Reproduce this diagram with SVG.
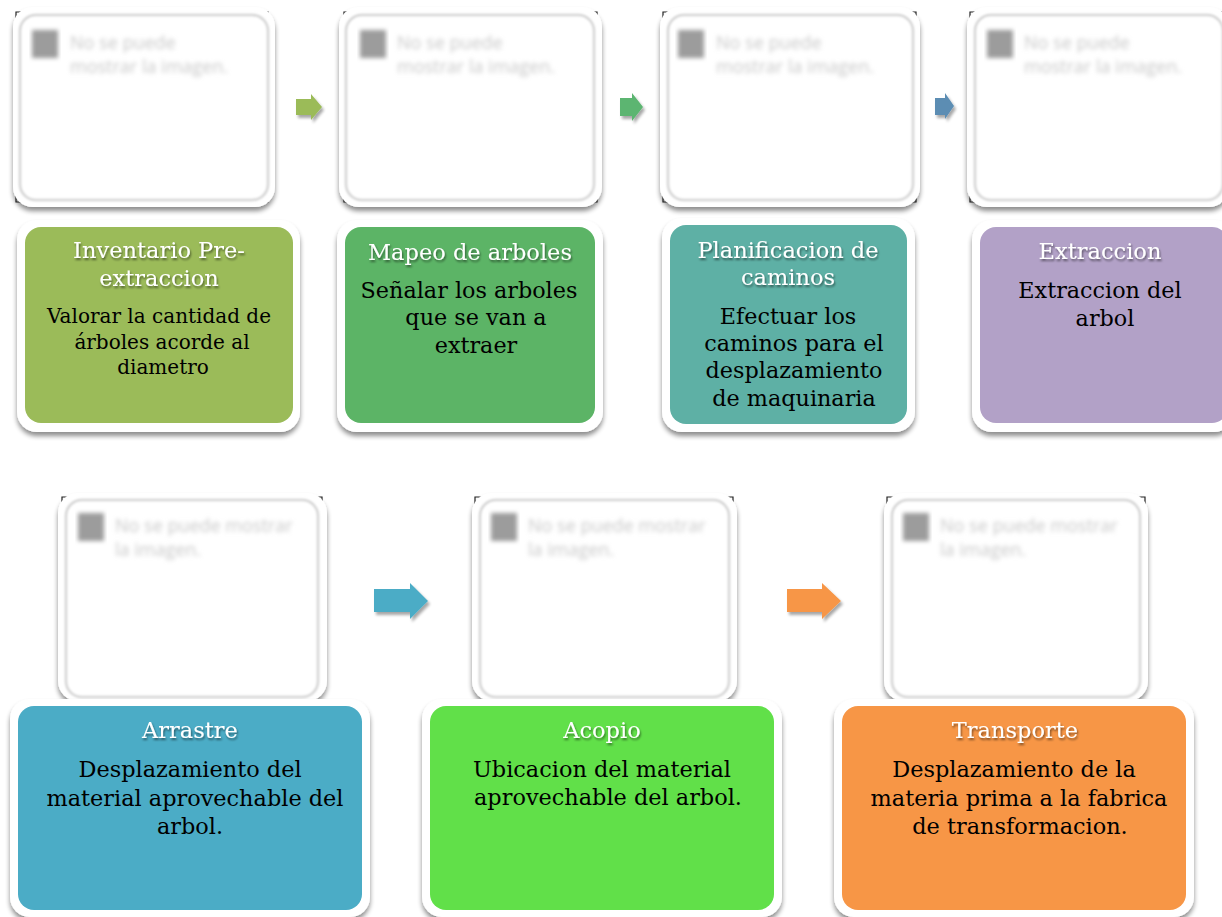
<svg xmlns="http://www.w3.org/2000/svg" width="1222" height="917" viewBox="0 0 1222 917">
<style>
.frame-out{fill:#fff;filter:url(#sh)}
.frame-in{fill:#fff;stroke:#d4d4d4;stroke-width:2.5;filter:url(#soft)}
.mark{fill:none;stroke:#222;stroke-width:1.2}
.ph-icon{fill:#9c9c9c;filter:url(#blur)}
.ph-text{font-family:"Open Sans","DejaVu Sans",sans-serif;font-size:18px;fill:#c8c8c8;filter:url(#blur)}
.cap-out{fill:#fff;filter:url(#sh)}
.title{font-family:"DejaVu Serif",serif;fill:#fff;text-anchor:middle;filter:url(#tsh)}
.desc{font-family:"DejaVu Serif",serif;fill:#000;text-anchor:middle}
.t1{font-size:22.5px}
.d1{font-size:20px}
.d3{font-size:22.3px}
.t2{font-size:22.5px}
.d2{font-size:22.4px}
</style>
<defs>
<filter id="sh" x="-10%" y="-10%" width="120%" height="125%">
<feGaussianBlur in="SourceAlpha" stdDeviation="2.5"/>
<feOffset dy="4" result="b"/>
<feComponentTransfer><feFuncA type="linear" slope="0.45"/></feComponentTransfer>
<feMerge><feMergeNode/><feMergeNode in="SourceGraphic"/></feMerge>
</filter>
<filter id="soft" x="-5%" y="-5%" width="110%" height="110%">
<feGaussianBlur stdDeviation="0.8"/>
</filter>
<filter id="blur" x="-10%" y="-40%" width="120%" height="180%">
<feGaussianBlur stdDeviation="2"/>
</filter>
<filter id="tsh" x="-10%" y="-20%" width="120%" height="150%">
<feGaussianBlur in="SourceAlpha" stdDeviation="1"/>
<feOffset dx="1" dy="1.5"/>
<feComponentTransfer><feFuncA type="linear" slope="0.5"/></feComponentTransfer>
<feMerge><feMergeNode/><feMergeNode in="SourceGraphic"/></feMerge>
</filter>
<filter id="ash" x="-20%" y="-20%" width="150%" height="160%">
<feGaussianBlur in="SourceAlpha" stdDeviation="1.5"/>
<feOffset dx="2" dy="3"/>
<feComponentTransfer><feFuncA type="linear" slope="0.35"/></feComponentTransfer>
<feMerge><feMergeNode/><feMergeNode in="SourceGraphic"/></feMerge>
</filter>
</defs>

<g id="connectors">
<path d="M296,99 H311 V94 L322,107 L311,120 V115 H296 Z" fill="#9bbb59" filter="url(#ash)"/>
<path d="M620,98 H632 V93 L643,107 L632,121 V116 H620 Z" fill="#5cb571" filter="url(#ash)"/>
<path d="M935,98 H945 V93 L954,106 L945,119 V115 H935 Z" fill="#5b8db3" filter="url(#ash)"/>
<path d="M374,589 H410 V583 L428,601 L410,619 V612 H374 Z" fill="#4bacc6" filter="url(#ash)"/>
<path d="M787,589 H822 V583 L841,601 L822,619 V612 H787 Z" fill="#f79646" filter="url(#ash)"/>
</g>

<g id="node1">
<path class="mark" d="M16,20 V12 H24 M260,12 H268 V20 M16,194 V202 H24 M260,202 H268 V194"/>
<rect class="frame-out" x="13" y="7" width="262" height="200" rx="20"/>
<rect class="frame-in" x="20" y="15" width="248" height="185" rx="16"/>
<rect class="ph-icon" x="32" y="30" width="26" height="28"/>
<text class="ph-text" x="70" y="49">No se puede</text>
<text class="ph-text" x="70" y="73">mostrar la imagen.</text>
<rect class="cap-out" x="17" y="220" width="283" height="212" rx="20"/>
<rect x="25" y="227" width="268" height="196" rx="16" fill="#9bbb59"/>
<text class="title t1" x="159" y="258">Inventario Pre-</text>
<text class="title t1" x="159" y="286">extraccion</text>
<text class="desc d1" x="159" y="323">Valorar la cantidad de</text>
<text class="desc d1" x="162" y="349">árboles acorde al</text>
<text class="desc d1" x="163" y="374">diametro</text>
</g>

<g id="node2">
<path class="mark" d="M344,20 V12 H352 M589,12 H597 V20 M344,194 V202 H352 M589,202 H597 V194"/>
<rect class="frame-out" x="339" y="7" width="263" height="200" rx="20"/>
<rect class="frame-in" x="346" y="15" width="248" height="185" rx="16"/>
<rect class="ph-icon" x="360" y="30" width="26" height="28"/>
<text class="ph-text" x="397" y="49">No se puede</text>
<text class="ph-text" x="397" y="73">mostrar la imagen.</text>
<rect class="cap-out" x="337" y="220" width="266" height="212" rx="20"/>
<rect x="345" y="227" width="250" height="196" rx="16" fill="#5cb466"/>
<text class="title t1" x="470" y="260">Mapeo de arboles</text>
<text class="desc d3" x="469" y="298">Señalar los arboles</text>
<text class="desc d3" x="476" y="325">que se van a</text>
<text class="desc d3" x="476" y="353">extraer</text>
</g>

<g id="node3">
<path class="mark" d="M663,20 V12 H671 M908,12 H916 V20 M663,194 V202 H671 M908,202 H916 V194"/>
<rect class="frame-out" x="660" y="7" width="260" height="200" rx="20"/>
<rect class="frame-in" x="668" y="15" width="245" height="185" rx="16"/>
<rect class="ph-icon" x="678" y="30" width="26" height="28"/>
<text class="ph-text" x="716" y="49">No se puede</text>
<text class="ph-text" x="716" y="73">mostrar la imagen.</text>
<rect class="cap-out" x="662" y="218" width="253" height="214" rx="20"/>
<rect x="670" y="225" width="237" height="199" rx="16" fill="#5eb0a5"/>
<text class="title t1" x="788" y="258">Planificacion de</text>
<text class="title t1" x="788" y="285">caminos</text>
<text class="desc d3" x="788" y="324">Efectuar los</text>
<text class="desc d3" x="794" y="351">caminos para el</text>
<text class="desc d3" x="794" y="378">desplazamiento</text>
<text class="desc d3" x="794" y="406">de maquinaria</text>
</g>

<g id="node4">
<path class="mark" d="M970,20 V12 H978 M1214,12 H1222 V20 M970,194 V202 H978 M1214,202 H1222 V194"/>
<rect class="frame-out" x="967" y="7" width="262" height="200" rx="20"/>
<rect class="frame-in" x="975" y="15" width="248" height="185" rx="16"/>
<rect class="ph-icon" x="987" y="30" width="26" height="28"/>
<text class="ph-text" x="1024" y="49">No se puede</text>
<text class="ph-text" x="1024" y="73">mostrar la imagen.</text>
<rect class="cap-out" x="972" y="220" width="262" height="212" rx="20"/>
<rect x="980" y="227" width="248" height="196" rx="16" fill="#b2a1c7"/>
<text class="title t1" x="1100" y="259">Extraccion</text>
<text class="desc d3" x="1100" y="298">Extraccion del</text>
<text class="desc d3" x="1105" y="326">arbol</text>
</g>

<g id="node5">
<path class="mark" d="M62,505 V497 H70 M314,497 H322 V505"/>
<rect class="frame-out" x="58" y="493" width="269" height="208" rx="20"/>
<rect class="frame-in" x="66" y="500" width="252" height="197" rx="16"/>
<rect class="ph-icon" x="78" y="513" width="26" height="28"/>
<text class="ph-text" x="115" y="532">No se puede mostrar</text>
<text class="ph-text" x="115" y="556">la imagen.</text>
<rect class="cap-out" x="10" y="699" width="360" height="218" rx="20"/>
<rect x="18" y="706" width="344" height="204" rx="16" fill="#4bacc6"/>
<text class="title t2" x="190" y="738">Arrastre</text>
<text class="desc d2" x="190" y="777">Desplazamiento del</text>
<text class="desc d2" x="195" y="806">material aprovechable del</text>
<text class="desc d2" x="190" y="834">arbol.</text>
</g>

<g id="node6">
<path class="mark" d="M475,505 V497 H483 M725,497 H733 V505"/>
<rect class="frame-out" x="472" y="493" width="265" height="208" rx="20"/>
<rect class="frame-in" x="480" y="500" width="249" height="197" rx="16"/>
<rect class="ph-icon" x="491" y="513" width="26" height="28"/>
<text class="ph-text" x="528" y="532">No se puede mostrar</text>
<text class="ph-text" x="528" y="556">la imagen.</text>
<rect class="cap-out" x="422" y="699" width="360" height="218" rx="20"/>
<rect x="430" y="706" width="344" height="204" rx="16" fill="#61e049"/>
<text class="title t2" x="602" y="738">Acopio</text>
<text class="desc d2" x="602" y="777">Ubicacion del material</text>
<text class="desc d2" x="608" y="805">aprovechable del arbol.</text>
</g>

<g id="node7">
<path class="mark" d="M887,505 V497 H895 M1137,497 H1145 V505"/>
<rect class="frame-out" x="884" y="493" width="264" height="208" rx="20"/>
<rect class="frame-in" x="892" y="500" width="248" height="197" rx="16"/>
<rect class="ph-icon" x="903" y="513" width="26" height="28"/>
<text class="ph-text" x="940" y="532">No se puede mostrar</text>
<text class="ph-text" x="940" y="556">la imagen.</text>
<rect class="cap-out" x="834" y="699" width="360" height="218" rx="20"/>
<rect x="842" y="706" width="344" height="204" rx="16" fill="#f79646"/>
<text class="title t2" x="1015" y="738">Transporte</text>
<text class="desc d2" x="1014" y="777">Desplazamiento de la</text>
<text class="desc d2" x="1019" y="806">materia prima a la fabrica</text>
<text class="desc d2" x="1020" y="834">de transformacion.</text>
</g>
</svg>
